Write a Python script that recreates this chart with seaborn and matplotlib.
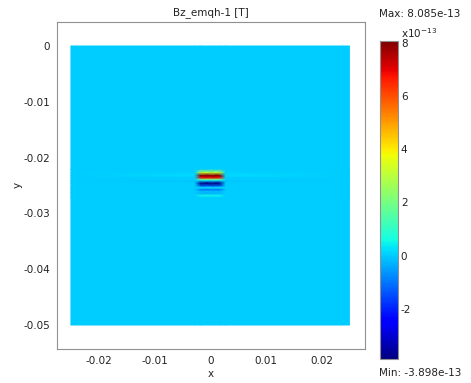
import numpy as np
import matplotlib
matplotlib.use("Agg")
import matplotlib.pyplot as plt
import seaborn as sns

sns.set_style("white")
plt.rcParams['font.family'] = ['DejaVu Sans']

# Bz of the emqh-1 solution on the slice, in units of 1e-13 T.
# The field is sampled on a coarse grid of nodes and shaded smoothly between them.
x_nodes = [-0.025, -0.0028, -0.0017, 0.0, 0.0017, 0.0028, 0.025]
y_nodes = [0.0, -0.0221, -0.0227, -0.0232, -0.0236, -0.0240, -0.0242, -0.0246,
           -0.0252, -0.02545, -0.0258, -0.0262, -0.0264, -0.0268, -0.0272, -0.05]

# vertical profile through the source region and its horizontal extent
band = [0.0, 0.0, 3.0, 8.085, 7.0, 2.0, 0.0, -3.898,
        -1.0, 0.3, -1.0, 0.0, -0.4, 0.5, 0.0, 0.0]
band_width = [0, 0, 1, 1, 1, 0, 0]

# faint streaks that run across the whole domain
wake = [0.0, 0.0, 0.05, 0.2, 0.0, 0.0, -0.1, 0.0,
        0.0, 0.0, 0.0, 0.0, 0.0, 0.0, 0.0, 0.0]
wake_width = [0.1, 1, 0, 0, 0, 1, 0.1]

vmin, vmax = -3.898, 8.085
cbar_ticks = [-2, 0, 2, 4, 6, 8]
x_ticks = [-0.02, -0.01, 0, 0.01, 0.02]
y_ticks = [0, -0.01, -0.02, -0.03, -0.04, -0.05]

Z = np.outer(band, band_width) + np.outer(wake, wake_width)
X, Y = np.meshgrid(x_nodes, y_nodes)

W, H = 471, 383
fig = plt.figure(figsize=(W / 100, H / 100), dpi=100)
ax = fig.add_axes([57 / W, 1 - 349 / H, 308 / W, 327 / H])

cmap = matplotlib.colormaps["jet"]
mesh = ax.pcolormesh(X, Y, Z, shading='gouraud', cmap=cmap, vmin=vmin, vmax=vmax)

ax.set_xlim(-0.0275, 0.0278)
ax.set_ylim(-0.0543, 0.0043)
ax.set_xticks(x_ticks)
ax.set_xticklabels(['%g' % t for t in x_ticks])
ax.set_yticks(y_ticks)
ax.set_yticklabels(['%g' % t for t in y_ticks])
ax.tick_params(length=0, labelsize=7.5, colors='#222222', pad=5)
for s in ax.spines.values():
    s.set_color('#909090')
    s.set_linewidth(0.8)

fs = 7.5
tc = '#222222'
fig.text(211 / W, 1 - 13 / H, 'Bz_emqh-1 [T]', ha='center', va='center', fontsize=fs, color=tc)
fig.text(211 / W, 1 - 374 / H, 'x', ha='center', va='center', fontsize=fs, color=tc)
fig.text(18 / W, 1 - 185 / H, 'y', ha='center', va='center', rotation=90, fontsize=fs, color=tc)

cax = fig.add_axes([380 / W, 1 - 359 / H, 18 / W, 318 / H])
cb = fig.colorbar(mesh, cax=cax, ticks=cbar_ticks)
cb.outline.set_edgecolor('#909090')
cb.outline.set_linewidth(0.8)
cax.yaxis.set_ticks_position('both')
cax.yaxis.set_label_position('right')
cax.tick_params(axis='y', direction='in', length=2.5, width=0.8, color='#555555',
                labelsize=fs, labelcolor=tc, pad=2, labelleft=False, labelright=True)
cax.set_yticklabels(['%g' % t for t in cbar_ticks])

fig.text(401 / W, 1 - 33 / H, r'x10$^{-13}$', ha='left', va='center', fontsize=fs, color=tc)
fig.text(379 / W, 1 - 14 / H, 'Max: %.3e' % (Z.max() * 1e-13), ha='left', va='center',
         fontsize=fs, color=tc)
fig.text(379 / W, 1 - 373 / H, 'Min: %.3e' % (Z.min() * 1e-13), ha='left', va='center',
         fontsize=fs, color=tc)

fig.savefig('out.png', dpi=100)
